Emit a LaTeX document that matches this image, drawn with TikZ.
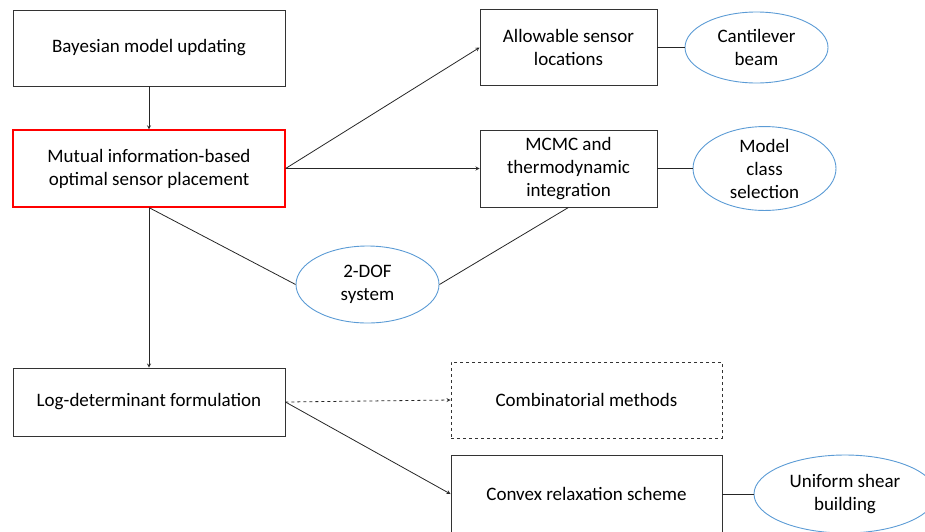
\documentclass[tikz,border=0pt]{standalone}
\usepackage{fontspec}
\setmainfont{Carlito}
\usetikzlibrary{shapes.geometric}
\definecolor{ovalblue}{RGB}{91,155,213}
\definecolor{boxred}{RGB}{255,0,0}
\tikzset{
	blk/.style={draw=black!80,line width=0.9pt,rectangle,align=center,inner sep=0pt,
		font=\fontsize{19}{23}\selectfont},
	oval/.style={draw=ovalblue,line width=0.9pt,ellipse,align=center,inner sep=0pt,
		minimum width=143pt,font=\fontsize{19}{23}\selectfont},
	link/.style={black!85,line width=0.8pt}
}
\begin{document}
\begin{tikzpicture}[x=1pt,y=-1pt,>=stealth]
\useasboundingbox (0,0) rectangle (925,531);
% The left column
\node[blk,minimum width=272pt,minimum height=76pt] (bayes) at (149,48) {Bayesian model updating};
\node[blk,draw=boxred,line width=1.2pt,minimum width=272pt,minimum height=77pt] (mutual) at (149,168.5) {Mutual information-based\\optimal sensor placement};
\node[blk,minimum width=272pt,minimum height=68pt] (logdet) at (149,402) {Log-determinant formulation};

% The right boxes
\node[blk,minimum width=177pt,minimum height=76pt] (allow) at (568.5,47.5) {Allowable sensor\\locations};
\node[blk,minimum width=177pt,minimum height=77pt] (mcmc) at (568.5,168.5) {MCMC and\\thermodynamic\\integration};
\node[blk,dashed,minimum width=271pt,minimum height=76pt] (comb) at (586.5,400) {Combinatorial methods};
\node[blk,minimum width=271pt,minimum height=78pt] (convex) at (586.5,494) {Convex relaxation scheme};

% The examples
\node[oval,minimum height=71pt] (canti) at (756.5,47.5) {Cantilever\\beam};
\node[oval,minimum height=77pt] (model) at (764.5,168.5) {Model\\class\\selection};
\node[oval,minimum height=77pt] (dof) at (367.5,284.5) {2-DOF\\system};
\node[oval,minimum width=182pt,minimum height=78pt] (shear) at (845,494) {Uniform shear\\building};

% Arrows
\draw[link,->] (bayes) -- (mutual);
\draw[link,->] (mutual.east) -- (allow.west);
\draw[link,->] (mutual.east) -- (mcmc.west);
\draw[link,->] (mutual) -- (logdet);
\draw[link,->,dashed] (logdet.east) -- (comb.west);
\draw[link,->] (logdet.east) -- (convex.west);

% Plain lines to the examples
\draw[link] (mutual.south) -- (dof.west);
\draw[link] (dof.east) -- (mcmc.south);
\draw[link] (allow) -- (canti);
\draw[link] (mcmc) -- (model);
\draw[link] (convex) -- (shear);
\end{tikzpicture}
\end{document}
